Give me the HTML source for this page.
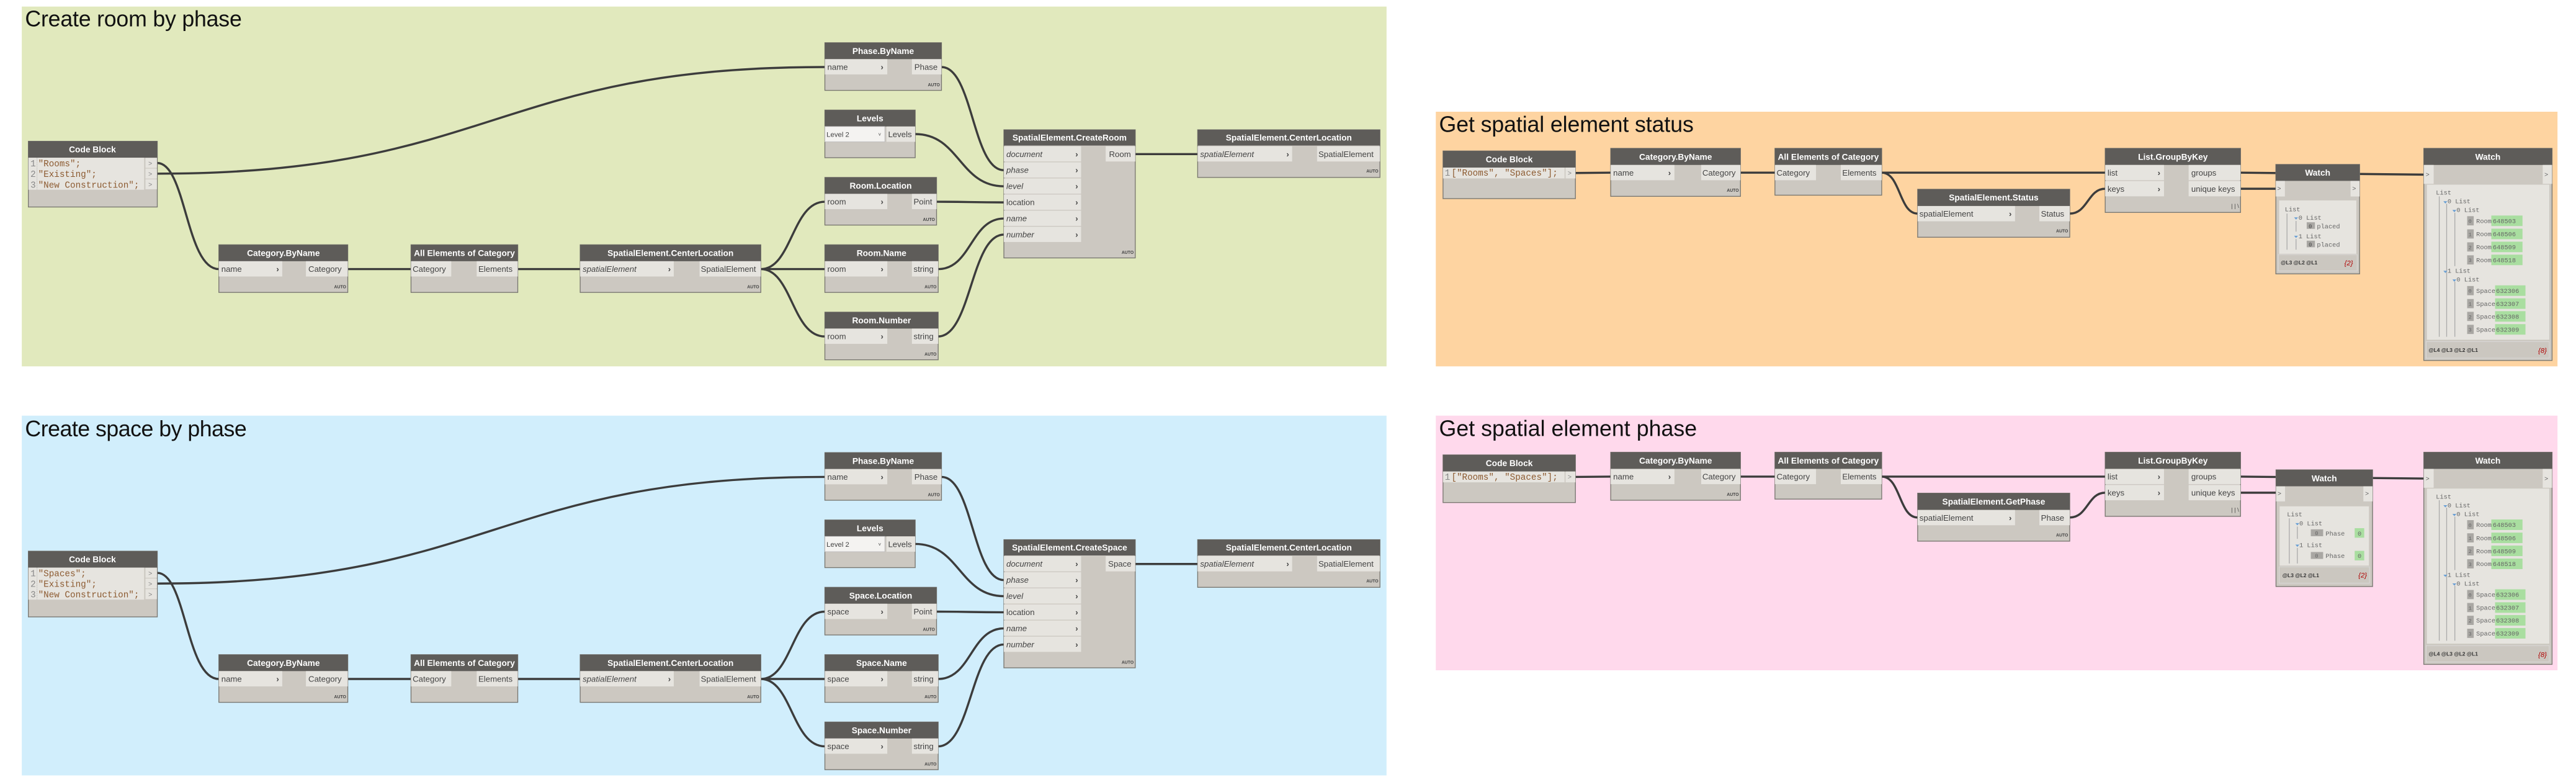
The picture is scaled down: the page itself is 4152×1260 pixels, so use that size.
<!DOCTYPE html>
<html><head><meta charset="utf-8"><style>
html,body{margin:0;padding:0;background:#fff;}
svg{display:block;}
.h{fill:#5e5c59}
.b{fill:#ccc8c1;stroke:#77756f;stroke-width:0.5}
.p{fill:#e6e4df}
.ht{fill:#fff;font:bold 5.2px "Liberation Sans",sans-serif;text-anchor:middle}
.pt{fill:#444;font:5px "Liberation Sans",sans-serif}
.it{font-style:italic}
.ch{fill:#444;font:bold 5px "Liberation Sans",sans-serif}
.au{fill:#444;font:bold 2.6px "Liberation Sans",sans-serif;text-anchor:end}
.w{stroke:#3c3c3c;fill:none;stroke-width:1.3}
.cd{font:5.4px "Liberation Mono",monospace;fill:#8c5a30}
.ln{font:5.4px "Liberation Mono",monospace;fill:#888}
.tt{font:13.5px "Liberation Sans",sans-serif;fill:#111}
.m{font:3.9px "Liberation Mono",monospace;fill:#666}
.ix{fill:#a9a7a3}
.gv{fill:#a9dea0}
.tl{stroke:#aaa;stroke-width:0.5}
.tri{fill:#6a9fd4}
.ft{font:bold 3.2px "Liberation Sans",sans-serif;fill:#333}
</style></head><body>
<svg width="4152" height="1260" viewBox="0 0 1568 476" xmlns="http://www.w3.org/2000/svg">
<!-- panels -->
<rect x="13" y="4" width="831" height="219" fill="#e1e9bd"/>
<rect x="13" y="253" width="831" height="219" fill="#d1eefc"/>
<rect x="874" y="68" width="683" height="155" fill="#fed4a1"/>
<rect x="874" y="253" width="683" height="155" fill="#ffd9ec"/>
<text class="tt" x="15" y="16" textLength="132">Create room by phase</text>
<text class="tt" x="15" y="265.5" textLength="135">Create space by phase</text>
<text class="tt" x="876" y="80.3" textLength="155">Get spatial element status</text>
<text class="tt" x="876" y="265.3" textLength="157">Get spatial element phase</text>

<!-- ============ GREEN ============ -->
<g id="green">
<path class="w" d="M95.5,99.2 C113,99.2 113,163.8 133,163.8"/>
<path class="w" d="M95.5,105.7 C300,105.7 300,40.8 502,40.8" stroke-width="1.6"/>
<path class="w" d="M573,40.8 C592,40.8 592,103.6 611,103.6"/>
<path class="w" d="M557,81.6 C584,81.6 584,113.4 611,113.4"/>
<path class="w" d="M570,122.8 C590,122.8 590,123.2 611,123.2" stroke-width="1.6"/>
<path class="w" d="M571,163.8 C591,163.8 591,133 611,133"/>
<path class="w" d="M571,204.8 C591,204.8 591,142.8 611,142.8"/>
<path class="w" d="M691,93.8 L729,93.8" stroke-width="1.6"/>
<path class="w" d="M211.5,163.8 L250,163.8 M315,163.8 L353,163.8" stroke-width="1.6"/>
<path class="w" d="M463,163.8 C482,163.8 482,122.8 502,122.8 M463,163.8 L502,163.8 M463,163.8 C482,163.8 482,204.8 502,204.8"/>

<!-- Code Block -->
<rect class="b" x="17" y="86" width="78.5" height="40"/>
<rect class="h" x="17" y="86" width="78.5" height="10"/>
<text class="ht" x="56" y="92.8">Code Block</text>
<rect class="p" x="17" y="96" width="70.5" height="19.5"/>
<line x1="22.3" y1="96" x2="22.3" y2="115.5" stroke="#aaa" stroke-width="0.3" stroke-dasharray="0.6,0.6"/>
<text class="ln" x="18.3" y="101.2">1</text><text class="cd" x="23" y="101.2">"Rooms";</text>
<text class="ln" x="18.3" y="107.7">2</text><text class="cd" x="23" y="107.7">"Existing";</text>
<text class="ln" x="18.3" y="114.2">3</text><text class="cd" x="23" y="114.2">"New Construction";</text>
<rect class="p" x="88.3" y="96.1" width="7" height="6.1"/><rect class="p" x="88.3" y="102.6" width="7" height="6.1"/><rect class="p" x="88.3" y="109.1" width="7" height="6.1"/>
<text class="ln" x="90" y="100.8" style="font-size:4px">&gt;</text><text class="ln" x="90" y="107.3" style="font-size:4px">&gt;</text><text class="ln" x="90" y="113.8" style="font-size:4px">&gt;</text>

<!-- Phase.ByName -->
<rect class="b" x="502" y="26" width="71" height="29"/>
<rect class="h" x="502" y="26" width="71" height="10"/>
<text class="ht" x="537.5" y="32.8">Phase.ByName</text>
<rect class="p" x="502" y="36" width="38" height="9.3"/><text class="pt" x="503.5" y="42.5">name</text><text class="ch" x="536" y="42.5">›</text>
<rect class="p" x="555" y="36" width="18" height="9.3"/><text class="pt" x="556.5" y="42.5">Phase</text>
<text class="au" x="572" y="52.5">AUTO</text>

<!-- Levels -->
<rect class="b" x="502" y="67" width="55" height="29"/>
<rect class="h" x="502" y="67" width="55" height="10"/>
<text class="ht" x="529.5" y="73.8">Levels</text>
<rect x="502" y="77" width="36.5" height="9.3" fill="#f4f3f1" stroke="#bbb" stroke-width="0.3"/><text class="pt" x="503" y="83.3" style="font-size:4.3px">Level 2</text><text class="pt" x="534.5" y="83" style="font-size:3px">˅</text>
<rect class="p" x="539.5" y="77" width="17.5" height="9.3"/><text class="pt" x="540.5" y="83.5">Levels</text>

<!-- Room.Location -->
<rect class="b" x="502" y="108" width="68" height="29"/>
<rect class="h" x="502" y="108" width="68" height="10"/>
<text class="ht" x="536" y="114.8">Room.Location</text>
<rect class="p" x="502" y="118" width="38" height="9.3"/><text class="pt" x="503.5" y="124.5">room</text><text class="ch" x="536" y="124.5">›</text>
<rect class="p" x="555" y="118" width="15" height="9.3"/><text class="pt" x="556" y="124.5">Point</text>
<text class="au" x="569" y="134.5">AUTO</text>

<!-- Room.Name -->
<rect class="b" x="502" y="149" width="69" height="29"/>
<rect class="h" x="502" y="149" width="69" height="10"/>
<text class="ht" x="536.5" y="155.8">Room.Name</text>
<rect class="p" x="502" y="159" width="38" height="9.3"/><text class="pt" x="503.5" y="165.5">room</text><text class="ch" x="536" y="165.5">›</text>
<rect class="p" x="555" y="159" width="16" height="9.3"/><text class="pt" x="556" y="165.5">string</text>
<text class="au" x="570" y="175.5">AUTO</text>

<!-- Room.Number -->
<rect class="b" x="502" y="190" width="69" height="29"/>
<rect class="h" x="502" y="190" width="69" height="10"/>
<text class="ht" x="536.5" y="196.8">Room.Number</text>
<rect class="p" x="502" y="200" width="38" height="9.3"/><text class="pt" x="503.5" y="206.5">room</text><text class="ch" x="536" y="206.5">›</text>
<rect class="p" x="555" y="200" width="16" height="9.3"/><text class="pt" x="556" y="206.5">string</text>
<text class="au" x="570" y="216.5">AUTO</text>

<!-- CreateRoom -->
<rect class="b" x="611" y="79" width="80" height="78"/>
<rect class="h" x="611" y="79" width="80" height="9.6"/>
<text class="ht" x="651" y="85.6">SpatialElement.CreateRoom</text>
<rect class="p" x="611" y="89" width="47" height="9.3"/><text class="pt it" x="612.5" y="95.5">document</text><text class="ch" x="654.5" y="95.5">›</text>
<rect class="p" x="611" y="98.8" width="47" height="9.3"/><text class="pt it" x="612.5" y="105.3">phase</text><text class="ch" x="654.5" y="105.3">›</text>
<rect class="p" x="611" y="108.6" width="47" height="9.3"/><text class="pt it" x="612.5" y="115.1">level</text><text class="ch" x="654.5" y="115.1">›</text>
<rect class="p" x="611" y="118.4" width="47" height="9.3"/><text class="pt" x="612.5" y="124.9">location</text><text class="ch" x="654.5" y="124.9">›</text>
<rect class="p" x="611" y="128.2" width="47" height="9.3"/><text class="pt it" x="612.5" y="134.7">name</text><text class="ch" x="654.5" y="134.7">›</text>
<rect class="p" x="611" y="138" width="47" height="9.3"/><text class="pt it" x="612.5" y="144.5">number</text><text class="ch" x="654.5" y="144.5">›</text>
<rect class="p" x="673" y="89" width="18" height="9.3"/><text class="pt" x="675" y="95.5">Room</text>
<text class="au" x="690" y="154.5">AUTO</text>

<!-- CenterLocation right -->
<rect class="b" x="729" y="79" width="111" height="29"/>
<rect class="h" x="729" y="79" width="111" height="9.6"/>
<text class="ht" x="784.5" y="85.6">SpatialElement.CenterLocation</text>
<rect class="p" x="729" y="89" width="57.5" height="9.3"/><text class="pt it" x="730.5" y="95.5">spatialElement</text><text class="ch" x="783" y="95.5">›</text>
<rect class="p" x="801.7" y="89" width="38.3" height="9.3"/><text class="pt" x="802.5" y="95.5">SpatialElement</text>
<text class="au" x="839" y="105">AUTO</text>

<!-- Category.ByName -->
<rect class="b" x="133" y="149" width="78.5" height="29"/>
<rect class="h" x="133" y="149" width="78.5" height="10"/>
<text class="ht" x="172.3" y="155.8">Category.ByName</text>
<rect class="p" x="133" y="159" width="38.6" height="9.3"/><text class="pt" x="134.5" y="165.5">name</text><text class="ch" x="168" y="165.5">›</text>
<rect class="p" x="186" y="159" width="25.5" height="9.3"/><text class="pt" x="187.5" y="165.5">Category</text>
<text class="au" x="210.5" y="175.5">AUTO</text>

<!-- All Elements -->
<rect class="b" x="250" y="149" width="65" height="29"/>
<rect class="h" x="250" y="149" width="65" height="10"/>
<text class="ht" x="282.5" y="155.8">All Elements of Category</text>
<rect class="p" x="250" y="159" width="24.5" height="9.3"/><text class="pt" x="251" y="165.5">Category</text>
<rect class="p" x="290" y="159" width="25" height="9.3"/><text class="pt" x="291" y="165.5">Elements</text>

<!-- SpatialElement.CenterLocation -->
<rect class="b" x="353" y="149" width="110" height="29"/>
<rect class="h" x="353" y="149" width="110" height="10"/>
<text class="ht" x="408" y="155.8">SpatialElement.CenterLocation</text>
<rect class="p" x="353" y="159" width="57" height="9.3"/><text class="pt it" x="354.5" y="165.5">spatialElement</text><text class="ch" x="406.5" y="165.5">›</text>
<rect class="p" x="425.7" y="159" width="37.3" height="9.3"/><text class="pt" x="426.5" y="165.5">SpatialElement</text>
<text class="au" x="462" y="175.5">AUTO</text>
</g>

<!-- ============ BLUE ============ -->
<g transform="translate(0,249.5)">
<path class="w" d="M95.5,99.2 C113,99.2 113,163.8 133,163.8"/>
<path class="w" d="M95.5,105.7 C300,105.7 300,40.8 502,40.8" stroke-width="1.6"/>
<path class="w" d="M573,40.8 C592,40.8 592,103.6 611,103.6"/>
<path class="w" d="M557,81.6 C584,81.6 584,113.4 611,113.4"/>
<path class="w" d="M570,122.8 C590,122.8 590,123.2 611,123.2" stroke-width="1.6"/>
<path class="w" d="M571,163.8 C591,163.8 591,133 611,133"/>
<path class="w" d="M571,204.8 C591,204.8 591,142.8 611,142.8"/>
<path class="w" d="M691,93.8 L729,93.8" stroke-width="1.6"/>
<path class="w" d="M211.5,163.8 L250,163.8 M315,163.8 L353,163.8" stroke-width="1.6"/>
<path class="w" d="M463,163.8 C482,163.8 482,122.8 502,122.8 M463,163.8 L502,163.8 M463,163.8 C482,163.8 482,204.8 502,204.8"/>

<rect class="b" x="17" y="86" width="78.5" height="40"/>
<rect class="h" x="17" y="86" width="78.5" height="10"/>
<text class="ht" x="56" y="92.8">Code Block</text>
<rect class="p" x="17" y="96" width="70.5" height="19.5"/>
<line x1="22.3" y1="96" x2="22.3" y2="115.5" stroke="#aaa" stroke-width="0.3" stroke-dasharray="0.6,0.6"/>
<text class="ln" x="18.3" y="101.2">1</text><text class="cd" x="23" y="101.2">"Spaces";</text>
<text class="ln" x="18.3" y="107.7">2</text><text class="cd" x="23" y="107.7">"Existing";</text>
<text class="ln" x="18.3" y="114.2">3</text><text class="cd" x="23" y="114.2">"New Construction";</text>
<rect class="p" x="88.3" y="96.1" width="7" height="6.1"/><rect class="p" x="88.3" y="102.6" width="7" height="6.1"/><rect class="p" x="88.3" y="109.1" width="7" height="6.1"/>
<text class="ln" x="90" y="100.8" style="font-size:4px">&gt;</text><text class="ln" x="90" y="107.3" style="font-size:4px">&gt;</text><text class="ln" x="90" y="113.8" style="font-size:4px">&gt;</text>

<rect class="b" x="502" y="26" width="71" height="29"/>
<rect class="h" x="502" y="26" width="71" height="10"/>
<text class="ht" x="537.5" y="32.8">Phase.ByName</text>
<rect class="p" x="502" y="36" width="38" height="9.3"/><text class="pt" x="503.5" y="42.5">name</text><text class="ch" x="536" y="42.5">›</text>
<rect class="p" x="555" y="36" width="18" height="9.3"/><text class="pt" x="556.5" y="42.5">Phase</text>
<text class="au" x="572" y="52.5">AUTO</text>

<rect class="b" x="502" y="67" width="55" height="29"/>
<rect class="h" x="502" y="67" width="55" height="10"/>
<text class="ht" x="529.5" y="73.8">Levels</text>
<rect x="502" y="77" width="36.5" height="9.3" fill="#f4f3f1" stroke="#bbb" stroke-width="0.3"/><text class="pt" x="503" y="83.3" style="font-size:4.3px">Level 2</text><text class="pt" x="534.5" y="83" style="font-size:3px">˅</text>
<rect class="p" x="539.5" y="77" width="17.5" height="9.3"/><text class="pt" x="540.5" y="83.5">Levels</text>

<rect class="b" x="502" y="108" width="68" height="29"/>
<rect class="h" x="502" y="108" width="68" height="10"/>
<text class="ht" x="536" y="114.8">Space.Location</text>
<rect class="p" x="502" y="118" width="38" height="9.3"/><text class="pt" x="503.5" y="124.5">space</text><text class="ch" x="536" y="124.5">›</text>
<rect class="p" x="555" y="118" width="15" height="9.3"/><text class="pt" x="556" y="124.5">Point</text>
<text class="au" x="569" y="134.5">AUTO</text>

<rect class="b" x="502" y="149" width="69" height="29"/>
<rect class="h" x="502" y="149" width="69" height="10"/>
<text class="ht" x="536.5" y="155.8">Space.Name</text>
<rect class="p" x="502" y="159" width="38" height="9.3"/><text class="pt" x="503.5" y="165.5">space</text><text class="ch" x="536" y="165.5">›</text>
<rect class="p" x="555" y="159" width="16" height="9.3"/><text class="pt" x="556" y="165.5">string</text>
<text class="au" x="570" y="175.5">AUTO</text>

<rect class="b" x="502" y="190" width="69" height="29"/>
<rect class="h" x="502" y="190" width="69" height="10"/>
<text class="ht" x="536.5" y="196.8">Space.Number</text>
<rect class="p" x="502" y="200" width="38" height="9.3"/><text class="pt" x="503.5" y="206.5">space</text><text class="ch" x="536" y="206.5">›</text>
<rect class="p" x="555" y="200" width="16" height="9.3"/><text class="pt" x="556" y="206.5">string</text>
<text class="au" x="570" y="216.5">AUTO</text>

<rect class="b" x="611" y="79" width="80" height="78"/>
<rect class="h" x="611" y="79" width="80" height="9.6"/>
<text class="ht" x="651" y="85.6">SpatialElement.CreateSpace</text>
<rect class="p" x="611" y="89" width="47" height="9.3"/><text class="pt it" x="612.5" y="95.5">document</text><text class="ch" x="654.5" y="95.5">›</text>
<rect class="p" x="611" y="98.8" width="47" height="9.3"/><text class="pt it" x="612.5" y="105.3">phase</text><text class="ch" x="654.5" y="105.3">›</text>
<rect class="p" x="611" y="108.6" width="47" height="9.3"/><text class="pt it" x="612.5" y="115.1">level</text><text class="ch" x="654.5" y="115.1">›</text>
<rect class="p" x="611" y="118.4" width="47" height="9.3"/><text class="pt" x="612.5" y="124.9">location</text><text class="ch" x="654.5" y="124.9">›</text>
<rect class="p" x="611" y="128.2" width="47" height="9.3"/><text class="pt it" x="612.5" y="134.7">name</text><text class="ch" x="654.5" y="134.7">›</text>
<rect class="p" x="611" y="138" width="47" height="9.3"/><text class="pt it" x="612.5" y="144.5">number</text><text class="ch" x="654.5" y="144.5">›</text>
<rect class="p" x="673" y="89" width="18" height="9.3"/><text class="pt" x="674.5" y="95.5">Space</text>
<text class="au" x="690" y="154.5">AUTO</text>

<rect class="b" x="729" y="79" width="111" height="29"/>
<rect class="h" x="729" y="79" width="111" height="9.6"/>
<text class="ht" x="784.5" y="85.6">SpatialElement.CenterLocation</text>
<rect class="p" x="729" y="89" width="57.5" height="9.3"/><text class="pt it" x="730.5" y="95.5">spatialElement</text><text class="ch" x="783" y="95.5">›</text>
<rect class="p" x="801.7" y="89" width="38.3" height="9.3"/><text class="pt" x="802.5" y="95.5">SpatialElement</text>
<text class="au" x="839" y="105">AUTO</text>

<rect class="b" x="133" y="149" width="78.5" height="29"/>
<rect class="h" x="133" y="149" width="78.5" height="10"/>
<text class="ht" x="172.3" y="155.8">Category.ByName</text>
<rect class="p" x="133" y="159" width="38.6" height="9.3"/><text class="pt" x="134.5" y="165.5">name</text><text class="ch" x="168" y="165.5">›</text>
<rect class="p" x="186" y="159" width="25.5" height="9.3"/><text class="pt" x="187.5" y="165.5">Category</text>
<text class="au" x="210.5" y="175.5">AUTO</text>

<rect class="b" x="250" y="149" width="65" height="29"/>
<rect class="h" x="250" y="149" width="65" height="10"/>
<text class="ht" x="282.5" y="155.8">All Elements of Category</text>
<rect class="p" x="250" y="159" width="24.5" height="9.3"/><text class="pt" x="251" y="165.5">Category</text>
<rect class="p" x="290" y="159" width="25" height="9.3"/><text class="pt" x="291" y="165.5">Elements</text>

<rect class="b" x="353" y="149" width="110" height="29"/>
<rect class="h" x="353" y="149" width="110" height="10"/>
<text class="ht" x="408" y="155.8">SpatialElement.CenterLocation</text>
<rect class="p" x="353" y="159" width="57" height="9.3"/><text class="pt it" x="354.5" y="165.5">spatialElement</text><text class="ch" x="406.5" y="165.5">›</text>
<rect class="p" x="425.7" y="159" width="37.3" height="9.3"/><text class="pt" x="426.5" y="165.5">SpatialElement</text>
<text class="au" x="462" y="175.5">AUTO</text>
</g>

<!-- ============ ORANGE ============ -->
<g>
<path class="w" d="M959,105.3 L980.5,105.1 M1059.5,105.1 L1080.5,105.1 M1145.5,105.1 L1281.6,105.1 M1364,105.1 L1475.6,106.3" stroke-width="1.6"/>
<path class="w" d="M1145.5,105.1 C1157,105.1 1156,130 1167.4,130"/>
<path class="w" d="M1260,130 C1271,130 1271,114.9 1281.6,114.9"/>
<path class="w" d="M1364,114.9 L1385.5,114.9" stroke-width="1.6"/>

<rect class="b" x="878.4" y="91.9" width="80.6" height="29"/>
<rect class="h" x="878.4" y="91.9" width="80.6" height="10.1"/>
<text class="ht" x="918.7" y="98.8">Code Block</text>
<rect class="p" x="878.4" y="102" width="74" height="6.6"/>
<text class="ln" x="879.5" y="107">1</text><text class="cd" x="883.5" y="107">["Rooms", "Spaces"];</text>
<rect class="p" x="953" y="102" width="6" height="6.6"/><text class="ln" x="954.3" y="106.7" style="font-size:4px">&gt;</text>

<rect class="b" x="980.5" y="90.3" width="79" height="29.2"/>
<rect class="h" x="980.5" y="90.3" width="79" height="10.1"/>
<text class="ht" x="1020" y="97.2">Category.ByName</text>
<rect class="p" x="980.5" y="100.4" width="38.8" height="9.3"/><text class="pt" x="982" y="106.9">name</text><text class="ch" x="1015.5" y="106.9">›</text>
<rect class="p" x="1035.6" y="100.4" width="23.9" height="9.3"/><text class="pt" x="1036.3" y="106.9">Category</text>
<text class="au" x="1058.5" y="116.8">AUTO</text>

<rect class="b" x="1080.5" y="90.3" width="65" height="28.5"/>
<rect class="h" x="1080.5" y="90.3" width="65" height="10.1"/>
<text class="ht" x="1113" y="97.2">All Elements of Category</text>
<rect class="p" x="1080.5" y="100.4" width="25" height="9.3"/><text class="pt" x="1081.5" y="106.9">Category</text>
<rect class="p" x="1120.6" y="100.4" width="24.9" height="9.3"/><text class="pt" x="1121.5" y="106.9">Elements</text>

<rect class="b" x="1167.4" y="115.2" width="92.6" height="29.2"/>
<rect class="h" x="1167.4" y="115.2" width="92.6" height="10.2"/>
<text class="ht" x="1213.7" y="122.1">SpatialElement.Status</text>
<rect class="p" x="1167.4" y="125.4" width="59.3" height="9.3"/><text class="pt" x="1168.5" y="131.9">spatialElement</text><text class="ch" x="1223" y="131.9">›</text>
<rect class="p" x="1241.5" y="125.4" width="18.5" height="9.3"/><text class="pt" x="1242.5" y="131.9">Status</text>
<text class="au" x="1259" y="141.5">AUTO</text>

<rect class="b" x="1281.6" y="90.3" width="82.4" height="39"/>
<rect class="h" x="1281.6" y="90.3" width="82.4" height="10.1"/>
<text class="ht" x="1322.8" y="97.2">List.GroupByKey</text>
<rect class="p" x="1281.6" y="100.4" width="35.8" height="9.3"/><text class="pt" x="1283" y="106.9">list</text><text class="ch" x="1313.5" y="106.9">›</text>
<rect class="p" x="1281.6" y="110.2" width="35.8" height="9.3"/><text class="pt" x="1283" y="116.7">keys</text><text class="ch" x="1313.5" y="116.7">›</text>
<rect class="p" x="1332.4" y="100.4" width="31.6" height="9.3"/><text class="pt" x="1334" y="106.9">groups</text>
<rect class="p" x="1332.4" y="110.2" width="31.6" height="9.3"/><text class="pt" x="1334" y="116.7">unique keys</text>
<text class="au" x="1363" y="126.5" style="font-weight:normal;font-size:3.5px">| | \</text>

<!-- small watch -->
<rect class="b" x="1385.5" y="100.1" width="51" height="66.6"/>
<rect class="h" x="1385.5" y="100.1" width="51" height="10"/>
<text class="ht" x="1411" y="107">Watch</text>
<rect class="p" x="1385.5" y="110.1" width="5.5" height="9.5"/><text class="m" x="1386.3" y="116">&gt;</text>
<rect class="p" x="1431" y="110.1" width="5.5" height="9.5"/><text class="m" x="1432" y="116">&gt;</text>
<rect class="p" x="1387.5" y="122" width="47" height="32.5"/>
<text class="m" x="1391" y="128.6">List</text>
<line class="tl" x1="1392.3" y1="130" x2="1392.3" y2="152"/>
<path class="tri" d="M1396.6,132.3 h2.4 l-1.2,1.4 z"/><text class="m" x="1399.3" y="133.8">0 List</text>
<line class="tl" x1="1397.8" y1="134.5" x2="1397.8" y2="141"/>
<rect class="ix" x="1404.3" y="135.3" width="5" height="4"/><text class="m" x="1405.5" y="138.8" style="font-size:3.3px;fill:#444">0</text><text class="m" x="1410.5" y="139">placed</text>
<path class="tri" d="M1396.6,143.5 h2.4 l-1.2,1.4 z"/><text class="m" x="1399.3" y="145">1 List</text>
<line class="tl" x1="1397.8" y1="145.5" x2="1397.8" y2="152"/>
<rect class="ix" x="1404.3" y="146.5" width="5" height="4"/><text class="m" x="1405.5" y="150" style="font-size:3.3px;fill:#444">0</text><text class="m" x="1410.5" y="150.2">placed</text>
<rect x="1387" y="155" width="48" height="10" fill="#cbc7c0" stroke="#ddd" stroke-width="0.3"/>
<text class="ft" x="1388.5" y="161">@L3 @L2 @L1</text><text x="1432.5" y="161.5" style="font:italic 4.3px 'Liberation Sans';fill:#b00000;text-anchor:end">{2}</text>

<!-- big watch -->
<g id="bigwatch">
<rect class="b" x="1475.6" y="90.3" width="78.1" height="129.1"/>
<rect class="h" x="1475.6" y="90.3" width="78.1" height="10.1"/>
<text class="ht" x="1514.6" y="97.2">Watch</text>
<rect class="p" x="1475.6" y="100.4" width="6" height="11.5"/><text class="m" x="1476.7" y="107.5">&gt;</text>
<rect class="p" x="1548" y="100.4" width="5.7" height="11.5"/><text class="m" x="1549" y="107.5">&gt;</text>
<rect class="p" x="1477.5" y="112.4" width="74.5" height="94.4"/>
<text class="m" x="1483" y="118.5">List</text>
<line class="tl" x1="1485" y1="119.5" x2="1485" y2="205"/>
<line class="tl" x1="1489.5" y1="124" x2="1489.5" y2="205"/>
<line class="tl" x1="1494.5" y1="129.5" x2="1494.5" y2="162"/>
<line class="tl" x1="1494.5" y1="171.5" x2="1494.5" y2="205"/>
<path class="tri" d="M1487.5,122.5 h2.4 l-1.2,1.4 z"/><text class="m" x="1490" y="123.8">0 List</text>
<path class="tri" d="M1493,127.8 h2.4 l-1.2,1.4 z"/><text class="m" x="1495.5" y="129.1">0 List</text>
<rect class="ix" x="1502" y="131.6" width="4" height="5.6"/><text class="m" x="1502.8" y="135.7" style="font-size:3.2px">0</text><text class="m" x="1507.5" y="135.8">Room</text><rect class="gv" x="1516.7" y="131.2" width="19" height="6.4"/><text class="m" x="1517.6" y="135.8">648503</text>
<rect class="ix" x="1502" y="139.6" width="4" height="5.6"/><text class="m" x="1502.8" y="143.7" style="font-size:3.2px">1</text><text class="m" x="1507.5" y="143.8">Room</text><rect class="gv" x="1516.7" y="139.2" width="19" height="6.4"/><text class="m" x="1517.6" y="143.8">648506</text>
<rect class="ix" x="1502" y="147.5" width="4" height="5.6"/><text class="m" x="1502.8" y="151.6" style="font-size:3.2px">2</text><text class="m" x="1507.5" y="151.7">Room</text><rect class="gv" x="1516.7" y="147.1" width="19" height="6.4"/><text class="m" x="1517.6" y="151.7">648509</text>
<rect class="ix" x="1502" y="155.4" width="4" height="5.6"/><text class="m" x="1502.8" y="159.5" style="font-size:3.2px">3</text><text class="m" x="1507.5" y="159.6">Room</text><rect class="gv" x="1516.7" y="155" width="19" height="6.4"/><text class="m" x="1517.6" y="159.6">648518</text>
<path class="tri" d="M1487.5,164.8 h2.4 l-1.2,1.4 z"/><text class="m" x="1490" y="166.1">1 List</text>
<path class="tri" d="M1493,170.1 h2.4 l-1.2,1.4 z"/><text class="m" x="1495.5" y="171.4">0 List</text>
<rect class="ix" x="1502" y="174.1" width="4" height="5.6"/><text class="m" x="1502.8" y="178.2" style="font-size:3.2px">0</text><text class="m" x="1507.5" y="178.3">Space</text><rect class="gv" x="1519" y="173.7" width="18.5" height="6.4"/><text class="m" x="1519.6" y="178.3">632306</text>
<rect class="ix" x="1502" y="182" width="4" height="5.6"/><text class="m" x="1502.8" y="186.1" style="font-size:3.2px">1</text><text class="m" x="1507.5" y="186.2">Space</text><rect class="gv" x="1519" y="181.6" width="18.5" height="6.4"/><text class="m" x="1519.6" y="186.2">632307</text>
<rect class="ix" x="1502" y="189.8" width="4" height="5.6"/><text class="m" x="1502.8" y="193.9" style="font-size:3.2px">2</text><text class="m" x="1507.5" y="194">Space</text><rect class="gv" x="1519" y="189.4" width="18.5" height="6.4"/><text class="m" x="1519.6" y="194">632308</text>
<rect class="ix" x="1502" y="197.7" width="4" height="5.6"/><text class="m" x="1502.8" y="201.8" style="font-size:3.2px">3</text><text class="m" x="1507.5" y="201.9">Space</text><rect class="gv" x="1519" y="197.3" width="18.5" height="6.4"/><text class="m" x="1519.6" y="201.9">632309</text>
<rect x="1477" y="208" width="75" height="10" fill="#cbc7c0" stroke="#ddd" stroke-width="0.3"/>
<text class="ft" x="1478.5" y="214.2">@L4 @L3 @L2 @L1</text><text x="1550.5" y="214.8" style="font:italic 4.3px 'Liberation Sans';fill:#b00000;text-anchor:end">{8}</text>
</g>
</g>

<!-- ============ PINK ============ -->
<g transform="translate(0,185)">
<path class="w" d="M959,105.3 L980.5,105.1 M1059.5,105.1 L1080.5,105.1 M1145.5,105.1 L1281.6,105.1 M1364,105.1 L1475.6,106.3" stroke-width="1.6"/>
<path class="w" d="M1145.5,105.1 C1157,105.1 1156,130 1167.4,130"/>
<path class="w" d="M1260,130 C1271,130 1271,114.9 1281.6,114.9"/>
<path class="w" d="M1364,114.9 L1385.5,114.9" stroke-width="1.6"/>

<rect class="b" x="878.4" y="91.9" width="80.6" height="29"/>
<rect class="h" x="878.4" y="91.9" width="80.6" height="10.1"/>
<text class="ht" x="918.7" y="98.8">Code Block</text>
<rect class="p" x="878.4" y="102" width="74" height="6.6"/>
<text class="ln" x="879.5" y="107">1</text><text class="cd" x="883.5" y="107">["Rooms", "Spaces"];</text>
<rect class="p" x="953" y="102" width="6" height="6.6"/><text class="ln" x="954.3" y="106.7" style="font-size:4px">&gt;</text>

<rect class="b" x="980.5" y="90.3" width="79" height="29.2"/>
<rect class="h" x="980.5" y="90.3" width="79" height="10.1"/>
<text class="ht" x="1020" y="97.2">Category.ByName</text>
<rect class="p" x="980.5" y="100.4" width="38.8" height="9.3"/><text class="pt" x="982" y="106.9">name</text><text class="ch" x="1015.5" y="106.9">›</text>
<rect class="p" x="1035.6" y="100.4" width="23.9" height="9.3"/><text class="pt" x="1036.3" y="106.9">Category</text>
<text class="au" x="1058.5" y="116.8">AUTO</text>

<rect class="b" x="1080.5" y="90.3" width="65" height="28.5"/>
<rect class="h" x="1080.5" y="90.3" width="65" height="10.1"/>
<text class="ht" x="1113" y="97.2">All Elements of Category</text>
<rect class="p" x="1080.5" y="100.4" width="25" height="9.3"/><text class="pt" x="1081.5" y="106.9">Category</text>
<rect class="p" x="1120.6" y="100.4" width="24.9" height="9.3"/><text class="pt" x="1121.5" y="106.9">Elements</text>

<rect class="b" x="1167.4" y="115.2" width="92.6" height="29.2"/>
<rect class="h" x="1167.4" y="115.2" width="92.6" height="10.2"/>
<text class="ht" x="1213.7" y="122.1">SpatialElement.GetPhase</text>
<rect class="p" x="1167.4" y="125.4" width="59.3" height="9.3"/><text class="pt" x="1168.5" y="131.9">spatialElement</text><text class="ch" x="1223" y="131.9">›</text>
<rect class="p" x="1241.5" y="125.4" width="18.5" height="9.3"/><text class="pt" x="1242.5" y="131.9">Phase</text>
<text class="au" x="1259" y="141.5">AUTO</text>

<rect class="b" x="1281.6" y="90.3" width="82.4" height="39"/>
<rect class="h" x="1281.6" y="90.3" width="82.4" height="10.1"/>
<text class="ht" x="1322.8" y="97.2">List.GroupByKey</text>
<rect class="p" x="1281.6" y="100.4" width="35.8" height="9.3"/><text class="pt" x="1283" y="106.9">list</text><text class="ch" x="1313.5" y="106.9">›</text>
<rect class="p" x="1281.6" y="110.2" width="35.8" height="9.3"/><text class="pt" x="1283" y="116.7">keys</text><text class="ch" x="1313.5" y="116.7">›</text>
<rect class="p" x="1332.4" y="100.4" width="31.6" height="9.3"/><text class="pt" x="1334" y="106.9">groups</text>
<rect class="p" x="1332.4" y="110.2" width="31.6" height="9.3"/><text class="pt" x="1334" y="116.7">unique keys</text>
<text class="au" x="1363" y="126.5" style="font-weight:normal;font-size:3.5px">| | \</text>

<!-- small watch pink -->
<rect class="b" x="1385.6" y="101" width="58.8" height="71"/>
<rect class="h" x="1385.6" y="101" width="58.8" height="10"/>
<text class="ht" x="1415" y="108">Watch</text>
<rect class="p" x="1385.6" y="111" width="5.5" height="9.2"/><text class="m" x="1386.5" y="116.7">&gt;</text>
<rect class="p" x="1438.8" y="111" width="5.6" height="9.2"/><text class="m" x="1439.8" y="116.7">&gt;</text>
<rect class="p" x="1387.8" y="123.2" width="54.4" height="36.1"/>
<text class="m" x="1392.3" y="129.4">List</text>
<line class="tl" x1="1393.7" y1="130.5" x2="1393.7" y2="158"/>
<path class="tri" d="M1397.4,133.4 h2.4 l-1.2,1.4 z"/><text class="m" x="1399.8" y="134.8">0 List</text>
<line class="tl" x1="1398.6" y1="135.5" x2="1398.6" y2="143"/>
<rect class="ix" x="1406.8" y="137.2" width="7.5" height="4.2"/><text class="m" x="1409.3" y="140.6" style="font-size:3.3px">0</text><text class="m" x="1415.8" y="141">Phase</text>
<rect class="gv" x="1433.5" y="136.5" width="5.8" height="5.8"/><text class="m" x="1435.3" y="141">0</text>
<path class="tri" d="M1397.4,146.5 h2.4 l-1.2,1.4 z"/><text class="m" x="1399.8" y="148">1 List</text>
<line class="tl" x1="1398.6" y1="148.5" x2="1398.6" y2="158"/>
<rect class="ix" x="1406.8" y="151" width="7.5" height="4.2"/><text class="m" x="1409.3" y="154.4" style="font-size:3.3px">0</text><text class="m" x="1415.8" y="154.7">Phase</text>
<rect class="gv" x="1433.5" y="150.3" width="5.8" height="5.8"/><text class="m" x="1435.3" y="154.7">0</text>
<rect x="1387.5" y="160" width="55" height="10" fill="#cbc7c0" stroke="#ddd" stroke-width="0.3"/>
<text class="ft" x="1389.5" y="166.3">@L3 @L2 @L1</text><text x="1441" y="166.6" style="font:italic 4.3px 'Liberation Sans';fill:#b00000;text-anchor:end">{2}</text>

<use href="#bigwatch"/>
</g>
</svg>
</body></html>
